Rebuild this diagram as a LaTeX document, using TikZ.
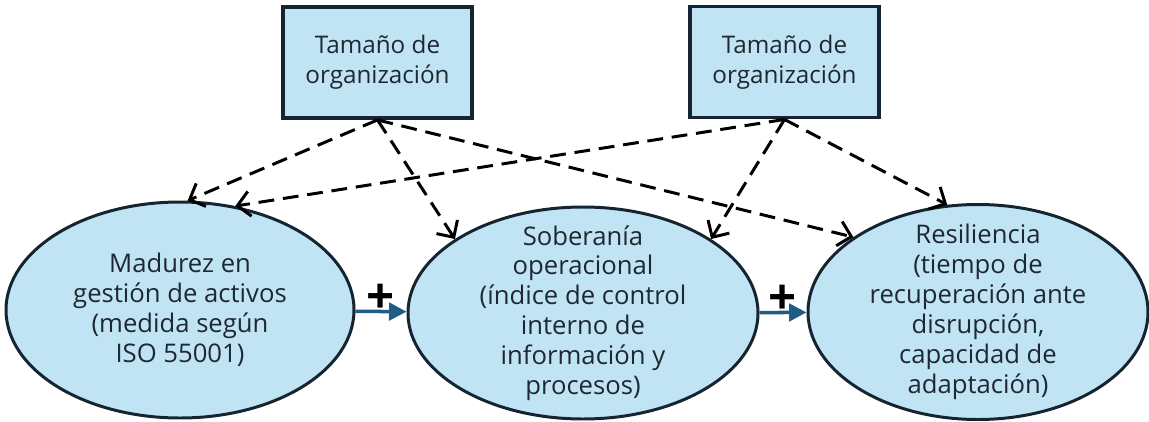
\documentclass[tikz,border=0pt]{standalone}
\usepackage{fontspec}
\setmainfont{Open Sans}
\usetikzlibrary{shapes.geometric, arrows.meta}
\definecolor{paleblue}{RGB}{193,228,245}
\definecolor{edgenavy}{RGB}{20,36,48}
\definecolor{textnavy}{RGB}{30,40,50}
\definecolor{arrowblue}{RGB}{31,93,132}

\begin{document}
\begin{tikzpicture}[
    sizebox/.style={draw=edgenavy, line width=2.2pt, fill=paleblue, minimum width=3.78cm, minimum height=2.22cm, align=center, text=textnavy, font=\fontsize{13.8}{17}\selectfont},
    factor/.style={ellipse, draw=edgenavy, line width=1.7pt, fill=paleblue, inner xsep=0pt, inner ysep=-6mm, align=center, text=textnavy, font=\fontsize{14.6}{17}\selectfont},
    moderate/.style={draw=black, line width=1.7pt, dash pattern=on 9pt off 5pt, -{Straight Barb[length=2.5mm, width=5mm]}},
    effect/.style={draw=arrowblue, line width=2pt, -{Triangle[length=3.5mm, width=3.5mm]}},
    sign/.style={font=\fontsize{28}{28}\selectfont\bfseries, inner sep=0pt}
]
    \useasboundingbox (0,0) rectangle (22.98,8.42);

    % Moderator boxes
    \node[sizebox] (size1) at (7.55,7.17) {Tamaño de\\organización};
    \node[sizebox] (size2) at (15.69,7.18) {Tamaño de\\organización};

    % Main constructs
    \node[factor, minimum width=6.96cm, minimum height=4.32cm] (madurez) at (3.6,2.22) {Madurez en\\gestión de activos\\(medida según\\ISO 55001)};
    \node[factor, minimum width=7.0cm, minimum height=4.24cm] (soberania) at (11.66,2.16) {Soberanía\\operacional\\(índice de control\\interno de\\información y\\procesos)};
    \node[factor, minimum width=6.8cm, minimum height=4.3cm] (resiliencia) at (19.56,2.18) {Resiliencia\\(tiempo de\\recuperación ante\\disrupción,\\capacidad de\\adaptación)};

    % Positive effects
    \draw[effect] (madurez) -- node[sign, above=-2pt] (plus1) {+} (soberania);
    \draw[effect] (soberania) -- node[sign, above=-2pt] (plus2) {+} (resiliencia);

    % Moderating paths
    \draw[moderate] (size1.south) -- (madurez.86);
    \draw[moderate] (size1.south) -- (soberania.150);
    \draw[moderate] (size1.south) -- (resiliencia.149);
    \draw[moderate] (size2.south) -- (madurez.62);
    \draw[moderate] (size2.south) -- (soberania.30);
    \draw[moderate] (size2.south) -- (resiliencia.106);
\end{tikzpicture}
\end{document}
